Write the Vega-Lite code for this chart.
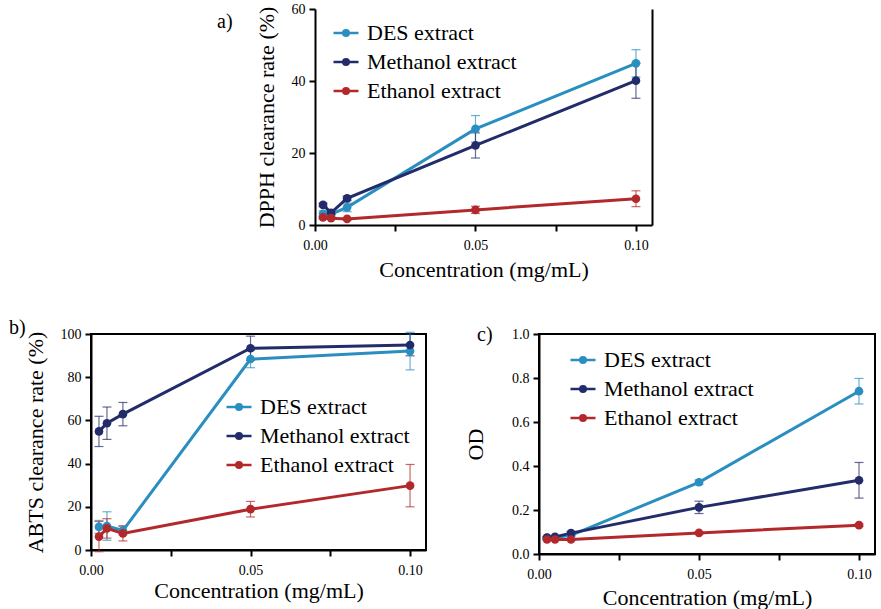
{
  "$schema": "https://vega.github.io/schema/vega-lite/v6.json",
  "padding": {"left": 8, "top": 2, "right": 2, "bottom": 0},
  "datasets": {
    "dpph": [
      {"extract": "DES extract", "conc": 0.0025, "mean": 3.1, "sd": 0.8},
      {"extract": "DES extract", "conc": 0.005, "mean": 3.0, "sd": 0.5},
      {"extract": "DES extract", "conc": 0.01, "mean": 4.9, "sd": 1.2},
      {"extract": "DES extract", "conc": 0.05, "mean": 26.7, "sd": 3.7},
      {"extract": "DES extract", "conc": 0.1, "mean": 44.9, "sd": 3.8},
      {"extract": "Methanol extract", "conc": 0.0025, "mean": 5.6, "sd": 0.5},
      {"extract": "Methanol extract", "conc": 0.005, "mean": 3.4, "sd": 0.5},
      {"extract": "Methanol extract", "conc": 0.01, "mean": 7.4, "sd": 0.6},
      {"extract": "Methanol extract", "conc": 0.05, "mean": 22.1, "sd": 3.5},
      {"extract": "Methanol extract", "conc": 0.1, "mean": 40.1, "sd": 4.9},
      {"extract": "Ethanol extract", "conc": 0.0025, "mean": 2.1, "sd": 0.4},
      {"extract": "Ethanol extract", "conc": 0.005, "mean": 1.9, "sd": 0.3},
      {"extract": "Ethanol extract", "conc": 0.01, "mean": 1.7, "sd": 0.3},
      {"extract": "Ethanol extract", "conc": 0.05, "mean": 4.2, "sd": 1.0},
      {"extract": "Ethanol extract", "conc": 0.1, "mean": 7.3, "sd": 2.2}
    ],
    "abts": [
      {"extract": "DES extract", "conc": 0.0025, "mean": 10.7, "sd": 3.0},
      {"extract": "DES extract", "conc": 0.005, "mean": 11.1, "sd": 6.6},
      {"extract": "DES extract", "conc": 0.01, "mean": 9.0, "sd": 2.0},
      {"extract": "DES extract", "conc": 0.05, "mean": 88.4, "sd": 4.0},
      {"extract": "DES extract", "conc": 0.1, "mean": 92.1, "sd": 8.7},
      {"extract": "Methanol extract", "conc": 0.0025, "mean": 54.9, "sd": 7.0},
      {"extract": "Methanol extract", "conc": 0.005, "mean": 58.7, "sd": 7.5},
      {"extract": "Methanol extract", "conc": 0.01, "mean": 62.9, "sd": 5.4},
      {"extract": "Methanol extract", "conc": 0.05, "mean": 93.4, "sd": 5.6},
      {"extract": "Methanol extract", "conc": 0.1, "mean": 94.9, "sd": 5.0},
      {"extract": "Ethanol extract", "conc": 0.0025, "mean": 6.2, "sd": 7.0},
      {"extract": "Ethanol extract", "conc": 0.005, "mean": 10.0, "sd": 4.5},
      {"extract": "Ethanol extract", "conc": 0.01, "mean": 7.7, "sd": 3.5},
      {"extract": "Ethanol extract", "conc": 0.05, "mean": 18.9, "sd": 3.6},
      {"extract": "Ethanol extract", "conc": 0.1, "mean": 29.8, "sd": 9.8}
    ],
    "od": [
      {"extract": "DES extract", "conc": 0.0025, "mean": 0.074, "sd": 0.005},
      {"extract": "DES extract", "conc": 0.005, "mean": 0.075, "sd": 0.005},
      {"extract": "DES extract", "conc": 0.01, "mean": 0.085, "sd": 0.005},
      {"extract": "DES extract", "conc": 0.05, "mean": 0.326, "sd": 0.01},
      {"extract": "DES extract", "conc": 0.1, "mean": 0.74, "sd": 0.058},
      {"extract": "Methanol extract", "conc": 0.0025, "mean": 0.075, "sd": 0.005},
      {"extract": "Methanol extract", "conc": 0.005, "mean": 0.078, "sd": 0.005},
      {"extract": "Methanol extract", "conc": 0.01, "mean": 0.095, "sd": 0.008},
      {"extract": "Methanol extract", "conc": 0.05, "mean": 0.212, "sd": 0.028},
      {"extract": "Methanol extract", "conc": 0.1, "mean": 0.335, "sd": 0.081},
      {"extract": "Ethanol extract", "conc": 0.0025, "mean": 0.066, "sd": 0.004},
      {"extract": "Ethanol extract", "conc": 0.005, "mean": 0.066, "sd": 0.004},
      {"extract": "Ethanol extract", "conc": 0.01, "mean": 0.066, "sd": 0.004},
      {"extract": "Ethanol extract", "conc": 0.05, "mean": 0.096, "sd": 0.005},
      {"extract": "Ethanol extract", "conc": 0.1, "mean": 0.131, "sd": 0.006}
    ]
  },
  "config": {
    "font": "Times New Roman, Liberation Serif, serif",
    "style": {"guide-label": {"font": "Times New Roman, Liberation Serif, serif"}, "guide-title": {"font": "Times New Roman, Liberation Serif, serif"}},
    "view": {"stroke": "black", "strokeWidth": 2},
    "axis": {
      "domainColor": "black", "domainWidth": 2, "tickColor": "black", "tickWidth": 2, "tickSize": 6,
      "labelFont": "Times New Roman, Liberation Serif, serif", "labelFontSize": 14, "labelColor": "black", "labelPadding": 4,
      "titleFont": "Times New Roman, Liberation Serif, serif", "titleFontSize": 22, "titleFontWeight": "normal", "titleColor": "black",
      "grid": false, "labelFlush": false
    },
    "axisX": {"labelPadding": 7},
    "legend": {
      "labelFont": "Times New Roman, Liberation Serif, serif", "labelFontSize": 22, "labelColor": "black",
      "symbolType": "M-1,0H1M-0.22,0A0.22,0.22 0 1,0 0.22,0A0.22,0.22 0 1,0 -0.22,0M-0.08,0A0.08,0.08 0 1,0 0.08,0A0.08,0.08 0 1,0 -0.08,0",
      "symbolSize": 625, "symbolStrokeWidth": 2.5, "symbolOpacity": 1, "labelOffset": 7, "rowPadding": 4, "padding": 0
    },
    "title": {"font": "Times New Roman, Liberation Serif, serif", "fontSize": 20, "fontWeight": "normal", "anchor": "start", "frame": "group", "color": "black"}
  },
  "resolve": {"legend": {"color": "independent"}, "scale": {"y": "independent"}},
  "center": true,
  "spacing": 37,
  "vconcat": [
    {
      "title": {"text": "a)", "dx": -98, "dy": 34},
      "width": 337, "height": 216,
      "view": {"stroke": null},
      "data": {"name": "dpph"},
      "resolve": {"axis": {"y": "independent"}},
      "layer": [
        {
          "mark": {"type": "errorbar", "ticks": {"size": 9}, "thickness": 1.2, "opacity": 0.7},
          "encoding": {
            "x": {"field": "conc", "type": "quantitative", "scale": {"domain": [0, 0.105], "nice": false},
                  "axis": {"values": [0, 0.025, 0.05, 0.075, 0.1], "labelExpr": "round(datum.value*1000) % 50 == 0 ? format(datum.value, '.2f') : ''", "title": "Concentration (mg/mL)", "titlePadding": 7, "labelFont": "Times New Roman, Liberation Serif, serif"}},
            "y": {"field": "mean", "type": "quantitative", "scale": {"domain": [0, 60], "nice": false},
                  "axis": {"values": [0, 20, 40, 60], "title": "DPPH clearance rate (%)", "titlePadding": 13, "labelFont": "Times New Roman, Liberation Serif, serif"}},
            "yError": {"field": "sd"},
            "color": {"field": "extract", "type": "nominal",
                      "scale": {"domain": ["DES extract", "Methanol extract", "Ethanol extract"], "range": ["#2a8fc0", "#222c6a", "#b3282b"]},
                      "legend": {"title": null, "orient": "none", "legendX": 17, "legendY": 10}}
          }
        },
        {
          "mark": {"type": "line", "strokeWidth": 3},
          "encoding": {
            "x": {"field": "conc", "type": "quantitative"},
            "y": {"field": "mean", "type": "quantitative", "axis": {"orient": "right", "labels": false, "ticks": false, "title": null}},
            "color": {"field": "extract", "type": "nominal",
                      "legend": {"title": null, "orient": "none", "legendX": 17, "legendY": 10}}
          }
        },
        {
          "mark": {"type": "point", "filled": true, "size": 75, "opacity": 1},
          "encoding": {
            "x": {"field": "conc", "type": "quantitative"},
            "y": {"field": "mean", "type": "quantitative", "axis": null},
            "color": {"field": "extract", "type": "nominal",
                      "legend": {"title": null, "orient": "none", "legendX": 17, "legendY": 10}}
          }
        }
      ]
    },
    {
      "resolve": {"legend": {"color": "independent"}, "scale": {"y": "independent"}},
      "spacing": 36,
      "hconcat": [
        {
          "title": {"text": "b)", "dx": -82, "dy": 15},
          "width": 335, "height": 216,
          "data": {"name": "abts"},
          "layer": [
            {
              "mark": {"type": "errorbar", "ticks": {"size": 9}, "thickness": 1.2, "opacity": 0.7},
              "encoding": {
                "x": {"field": "conc", "type": "quantitative", "scale": {"domain": [0, 0.105], "nice": false},
                      "axis": {"values": [0, 0.025, 0.05, 0.075, 0.1], "labelExpr": "round(datum.value*1000) % 50 == 0 ? format(datum.value, '.2f') : ''", "title": "Concentration (mg/mL)", "titlePadding": 3, "labelFont": "Times New Roman, Liberation Serif, serif"}},
                "y": {"field": "mean", "type": "quantitative", "scale": {"domain": [0, 100], "nice": false},
                      "axis": {"values": [0, 20, 40, 60, 80, 100], "title": "ABTS clearance rate (%)", "titlePadding": 13, "labelFont": "Times New Roman, Liberation Serif, serif"}},
                "yError": {"field": "sd"},
                "color": {"field": "extract", "type": "nominal",
                          "scale": {"domain": ["DES extract", "Methanol extract", "Ethanol extract"], "range": ["#2a8fc0", "#222c6a", "#b3282b"]},
                          "legend": {"title": null, "orient": "none", "legendX": 134, "legendY": 59}}
              }
            },
            {
              "mark": {"type": "line", "strokeWidth": 3},
              "encoding": {
                "x": {"field": "conc", "type": "quantitative"},
                "y": {"field": "mean", "type": "quantitative"},
                "color": {"field": "extract", "type": "nominal",
                          "legend": {"title": null, "orient": "none", "legendX": 134, "legendY": 59}}
              }
            },
            {
              "mark": {"type": "point", "filled": true, "size": 75, "opacity": 1},
              "encoding": {
                "x": {"field": "conc", "type": "quantitative"},
                "y": {"field": "mean", "type": "quantitative"},
                "color": {"field": "extract", "type": "nominal",
                          "legend": {"title": null, "orient": "none", "legendX": 134, "legendY": 59}}
              }
            }
          ]
        },
        {
          "title": {"text": "c)", "dx": -62, "dy": 22},
          "width": 336, "height": 220,
          "data": {"name": "od"},
          "layer": [
            {
              "mark": {"type": "errorbar", "ticks": {"size": 9}, "thickness": 1.2, "opacity": 0.7},
              "encoding": {
                "x": {"field": "conc", "type": "quantitative", "scale": {"domain": [0, 0.105], "nice": false},
                      "axis": {"values": [0, 0.025, 0.05, 0.075, 0.1], "labelExpr": "round(datum.value*1000) % 50 == 0 ? format(datum.value, '.2f') : ''", "title": "Concentration (mg/mL)", "titlePadding": 6, "labelFont": "Times New Roman, Liberation Serif, serif"}},
                "y": {"field": "mean", "type": "quantitative", "scale": {"domain": [0, 1], "nice": false},
                      "axis": {"values": [0, 0.2, 0.4, 0.6, 0.8, 1.0], "format": ".1f", "title": "OD", "titlePadding": 24, "labelFont": "Times New Roman, Liberation Serif, serif"}},
                "yError": {"field": "sd"},
                "color": {"field": "extract", "type": "nominal",
                          "scale": {"domain": ["DES extract", "Methanol extract", "Ethanol extract"], "range": ["#2a8fc0", "#222c6a", "#b3282b"]},
                          "legend": {"title": null, "orient": "none", "legendX": 30, "legendY": 12}}
              }
            },
            {
              "mark": {"type": "line", "strokeWidth": 3},
              "encoding": {
                "x": {"field": "conc", "type": "quantitative"},
                "y": {"field": "mean", "type": "quantitative"},
                "color": {"field": "extract", "type": "nominal",
                          "legend": {"title": null, "orient": "none", "legendX": 30, "legendY": 12}}
              }
            },
            {
              "mark": {"type": "point", "filled": true, "size": 75, "opacity": 1},
              "encoding": {
                "x": {"field": "conc", "type": "quantitative"},
                "y": {"field": "mean", "type": "quantitative"},
                "color": {"field": "extract", "type": "nominal",
                          "legend": {"title": null, "orient": "none", "legendX": 30, "legendY": 12}}
              }
            }
          ]
        }
      ]
    }
  ]
}
